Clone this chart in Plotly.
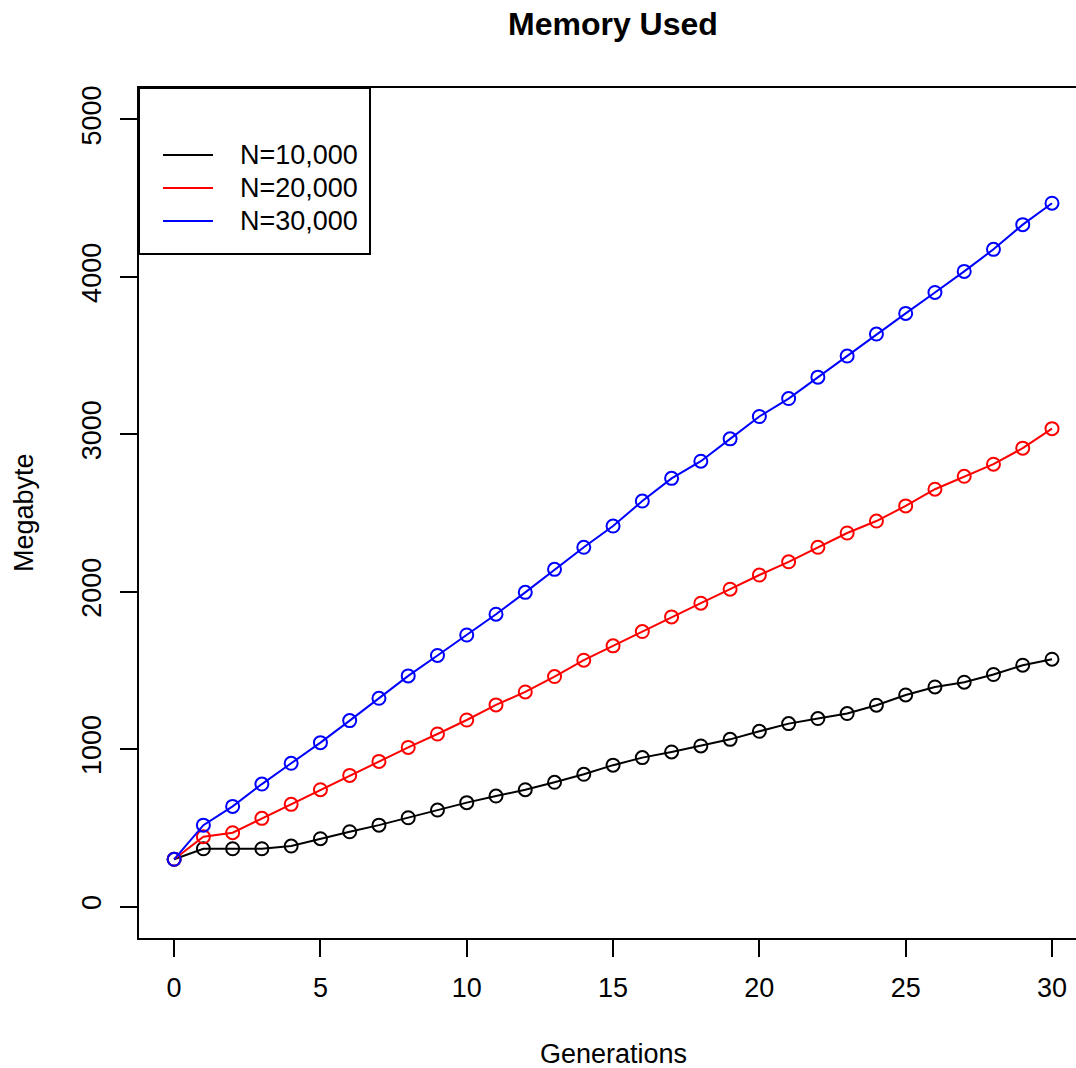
import plotly.graph_objects as go

# Memory footprint per generation for three population sizes
generations = list(range(0, 31))
series_names = ["N=10,000", "N=20,000", "N=30,000"]
series_colors = ["black", "red", "blue"]

mem_n10000 = [300, 367, 367, 367, 384, 431, 475, 517, 564, 613, 660, 702, 742, 789, 840,
              898, 946, 982, 1020, 1062, 1113, 1162, 1194, 1226, 1279, 1344, 1395, 1425,
              1474, 1533, 1571]
mem_n20000 = [300, 443, 469, 560, 649, 742, 833, 922, 1011, 1096, 1185, 1281, 1363, 1461,
              1565, 1656, 1747, 1840, 1927, 2016, 2106, 2190, 2282, 2373, 2449, 2545, 2651,
              2733, 2810, 2912, 3036]
mem_n30000 = [300, 517, 636, 778, 910, 1041, 1181, 1323, 1465, 1595, 1725, 1857, 1996, 2142,
              2282, 2417, 2576, 2720, 2829, 2971, 3113, 3227, 3363, 3497, 3637, 3768, 3901,
              4035, 4175, 4332, 4468]

x_ticks = [0, 5, 10, 15, 20, 25, 30]
y_ticks = [0, 1000, 2000, 3000, 4000, 5000]

W, H = 1076, 1068
L, T, B = 139, 88, 130
R = 0
plot_w = W - L - R
plot_h = H - T - B

FONT = "Liberation Sans, Arial, Helvetica, sans-serif"


def px_x(px):
    return (px - L) / plot_w


def px_y(py):
    return (H - B - py) / plot_h


fig = go.Figure()
for name, color, vals in zip(series_names, series_colors,
                             [mem_n10000, mem_n20000, mem_n30000]):
    fig.add_trace(go.Scatter(
        x=generations, y=vals, name=name, mode="lines+markers",
        line=dict(color=color, width=2),
        marker=dict(symbol="circle-open", size=13, color=color,
                    line=dict(color=color, width=2)),
        showlegend=False,
    ))

axis_common = dict(
    showgrid=False, zeroline=False, showline=True, linecolor="black", linewidth=2,
    ticks="outside", ticklen=17, tickwidth=2, tickcolor="black",
    tickfont=dict(family=FONT, size=27, color="black"),
)

fig.update_xaxes(range=[-1.2, (W - R - 174) / ((1052 - 174) / 30)], tickvals=x_ticks,
                 mirror=True, ticklabelstandoff=8, **axis_common)
fig.update_yaxes(range=[-200, 5200], tickvals=y_ticks, tickangle=-90,
                 mirror=False, ticklabelstandoff=8, **axis_common)

annotations = [
    dict(text="<b>Memory Used</b>", xref="x", yref="paper", x=15, y=px_y(24),
         xanchor="center", yanchor="middle", showarrow=False,
         font=dict(family=FONT, size=32, color="black")),
    dict(text="Generations", xref="x", yref="paper", x=15, y=px_y(1054),
         xanchor="center", yanchor="middle", height=26, showarrow=False,
         font=dict(family=FONT, size=27, color="black")),
    dict(text="Megabyte", xref="paper", yref="paper", x=px_x(24), y=px_y(513),
         xanchor="center", yanchor="middle", textangle=-90, showarrow=False,
         font=dict(family=FONT, size=27, color="black")),
]

shapes = [
    dict(type="rect", xref="paper", yref="paper", x0=px_x(139), x1=px_x(370),
         y0=px_y(254), y1=px_y(88), line=dict(color="black", width=2),
         fillcolor="white", layer="above"),
]

legend_rows = [155, 188, 221]
for name, color, row in zip(series_names, series_colors, legend_rows):
    shapes.append(dict(type="line", xref="paper", yref="paper",
                       x0=px_x(163), x1=px_x(213), y0=px_y(row), y1=px_y(row),
                       line=dict(color=color, width=2), layer="above"))
    annotations.append(dict(text=name, xref="paper", yref="paper", x=px_x(238),
                            y=px_y(row), xanchor="left", yanchor="middle",
                            showarrow=False,
                            font=dict(family=FONT, size=27, color="black")))

fig.update_layout(
    width=W, height=H,
    margin=dict(l=L, r=R, t=T, b=B, pad=0),
    paper_bgcolor="white", plot_bgcolor="white",
    annotations=annotations, shapes=shapes,
    showlegend=False,
)

fig.write_html("out.html")
